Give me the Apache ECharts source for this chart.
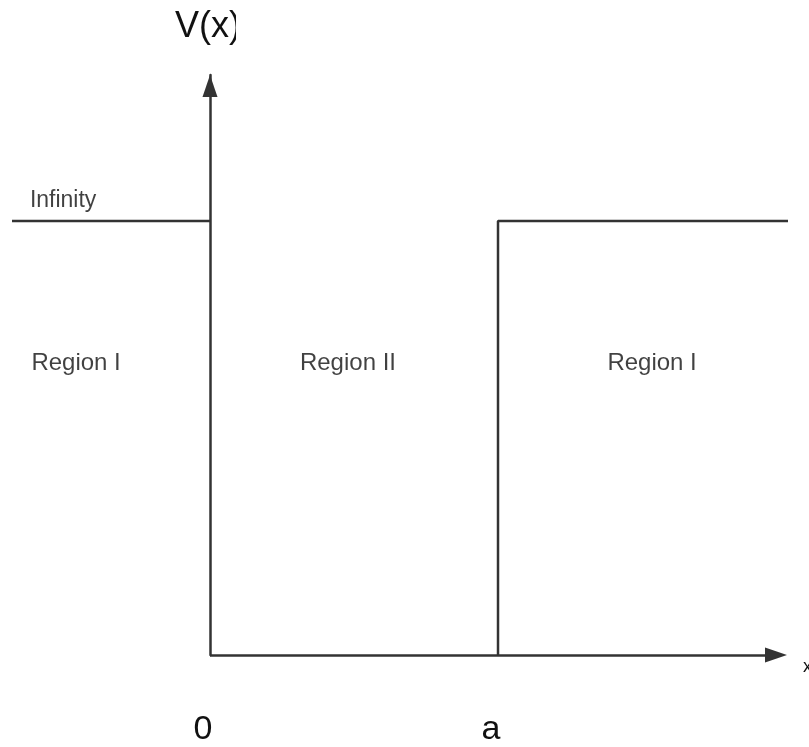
<!DOCTYPE html>
<html>
<head>
<meta charset="utf-8">
<script src="https://cdn.jsdelivr.net/npm/echarts@6/dist/echarts.min.js"></script>
<style>
html,body{margin:0;padding:0;background:#fff;}
#chart{width:809px;height:747px;}
</style>
</head>
<body>
<div id="chart"></div>
<script>
// ---- data (x in units of the well width a, V in units of the barrier height) ----
const leftBarrier = [[-0.6875, 1], [0, 1]];
const rightBarrier = [[1, 0], [1, 1], [2.0069, 1]];
const xAxisExtent = [0, 1.9653];
const regionLabels = [
  { name: 'Region I', value: [-0.465, 0.671] },
  { name: 'Region II', value: [0.479, 0.671] },
  { name: 'Region I', value: [1.535, 0.671] }
];
const barrierLabel = [{ name: 'Infinity', value: [-0.51, 1.046] }];
const xTickValues = [0, 1];
const xTickLabels = ['0', 'a'];
const yAxisTitle = 'V(x)';
const xAxisTitle = 'x';

const FONT = 'Arial, "Liberation Sans", sans-serif';
const LINE = '#333333';
const TEXT = '#111111';

const chart = echarts.init(document.getElementById('chart'));
chart.setOption({
  backgroundColor: '#ffffff',
  animation: false,
  grid: { left: 12, right: 21, top: 75, bottom: 92, containLabel: false, outerBoundsMode: 'none' },
  xAxis: {
    type: 'value',
    min: -0.6875,
    max: 2.0069,
    name: xAxisTitle,
    nameLocation: 'end',
    nameGap: 15,
    nameTextStyle: { fontFamily: FONT, fontSize: 18, color: TEXT, verticalAlign: 'top', lineHeight: 24 },
    axisLine: { show: false },
    axisTick: { show: false },
    splitLine: { show: false },
    axisLabel: {
      customValues: xTickValues,
      margin: 58,
      fontFamily: FONT,
      fontSize: 34,
      color: TEXT,
      padding: [0, 14, 0, 0],
      formatter: v => {
        const i = xTickValues.indexOf(v);
        return i >= 0 ? xTickLabels[i] : '';
      }
    }
  },
  yAxis: {
    type: 'value',
    min: 0,
    max: 1.3364,
    name: yAxisTitle,
    nameLocation: 'end',
    nameGap: 30,
    nameTextStyle: { fontFamily: FONT, fontSize: 36, color: TEXT, padding: [0, 4, 0, 0] },
    axisLine: {
      show: true,
      onZero: true,
      symbol: ['none', 'triangle'],
      symbolSize: [15, 22],
      symbolOffset: [0, -11],
      lineStyle: { color: LINE, width: 2.5 }
    },
    axisTick: { show: false },
    axisLabel: { show: false },
    splitLine: { show: false }
  },
  graphic: [
    { type: 'rect', x: 236, y: 0, shape: { x: 0, y: 0, width: 16, height: 50 }, style: { fill: '#ffffff' }, z: 1000, zlevel: 1, silent: true }
  ],
  series: [
    {
      type: 'line',
      data: leftBarrier,
      symbol: 'none',
      lineStyle: { color: LINE, width: 2.5 },
      silent: true,
      markLine: {
        silent: true,
        symbol: ['none', 'triangle'],
        symbolSize: [15, 22],
        label: { show: false },
        lineStyle: { color: LINE, width: 2.5, type: 'solid' },
        emphasis: { disabled: true },
        data: [[{ coord: [xAxisExtent[0], 0] }, { coord: [xAxisExtent[1], 0] }]]
      }
    },
    {
      type: 'line',
      data: rightBarrier,
      symbol: 'none',
      lineStyle: { color: LINE, width: 2.5 },
      silent: true
    },
    {
      type: 'scatter',
      data: regionLabels,
      symbolSize: 0,
      silent: true,
      label: {
        show: true,
        position: 'inside',
        formatter: p => p.name,
        fontFamily: FONT,
        fontSize: 24,
        color: TEXT
      }
    },
    {
      type: 'scatter',
      data: barrierLabel,
      symbolSize: 0,
      silent: true,
      label: {
        show: true,
        position: 'inside',
        formatter: p => p.name,
        fontFamily: FONT,
        fontSize: 23,
        color: TEXT
      }
    }
  ]
});
</script>
</body>
</html>
